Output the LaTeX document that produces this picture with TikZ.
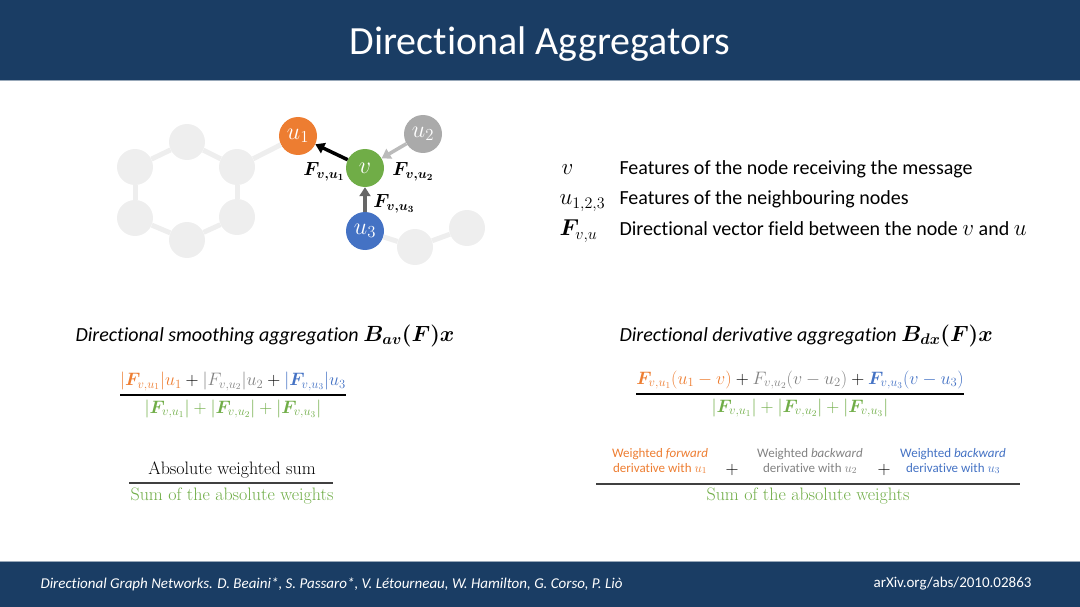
\RequirePackage{fix-cm}
\documentclass[tikz,border=0pt]{standalone}
\usepackage{amsmath,amssymb,bm}
\usepackage{fontspec}
\setsansfont{Carlito}[RawFeature=-liga, RawFeature=-clig, RawFeature=-dlig, RawFeature=-calt, RawFeature=-rlig]
\usepackage{xcolor}
\usetikzlibrary{
  arrows.meta,
  positioning,
}

\definecolor{slidenavy}{RGB}{26,61,100}
\definecolor{dgnorange}{RGB}{237,125,49}
\definecolor{dgngray}{RGB}{170,170,170}
\definecolor{dgngraytxt}{RGB}{130,130,130}
\definecolor{dgngreen}{RGB}{112,173,71}
\definecolor{dgnblue}{RGB}{68,114,196}
\definecolor{bgcircle}{RGB}{238,238,238}

\newcommand{\fsz}[2]{\fontsize{#1}{#2}\selectfont}
\newcommand{\thickfrac}[2]{\genfrac{}{}{1.3pt}{0}{#1}{#2}}

\begin{document}
\begin{tikzpicture}[
  x=1pt, y=-1pt,
  font=\sffamily,
  bgnode/.style={circle, fill=bgcircle, minimum size=36pt, inner sep=0pt},
  bgedge/.style={bgcircle, line width=5pt},
  gnode/.style={circle, minimum size=38pt, inner sep=0pt, text=white, font=\fsz{24}{28}},
  flabel/.style={font=\fsz{19}{22}},
  legsym/.style={anchor=base west, font=\fsz{23}{27}},
  legtxt/.style={anchor=base west, font=\sffamily\fsz{20}{24}},
  heading/.style={anchor=base west, font=\sffamily\fsz{20}{24}},
  fracnode/.style={font=\fsz{18}{22}},
  sumtxt/.style={font=\rmfamily\fsz{18}{21}},
  dxlabel/.style={align=center, font=\sffamily\fsz{13}{15}},
  fracbar/.style={draw=black!75, line width=1.5pt},
]
  % Scale: 1px = 1pt, y grows downwards
  \useasboundingbox (0,0) rectangle (1080,607);

  % Title bar
  \fill[slidenavy] (0,0) rectangle (1080,81);
  \draw[slidenavy!45, line width=1pt] (0,81) -- (1080,81);
  \node[text=white, font=\sffamily\fsz{40}{48}] (title) at (540,44) {Directional Aggregators};

  % Background molecule
  \node[bgnode] (h1) at (135,167) {};
  \node[bgnode] (h2) at (187,142) {};
  \node[bgnode] (h3) at (237,167) {};
  \node[bgnode] (h4) at (237,217) {};
  \node[bgnode] (h5) at (187,240) {};
  \node[bgnode] (h6) at (135,218) {};
  \node[bgnode] (b1) at (415,247) {};
  \node[bgnode] (b2) at (467,228) {};

  % Highlighted nodes
  \node[gnode, fill=dgnorange] (u1) at (298,136) {$u_1$};
  \node[gnode, fill=dgngray]   (u2) at (423,134) {$u_2$};
  \node[gnode, fill=dgngreen]  (v)  at (365,168) {$v$};
  \node[gnode, fill=dgnblue]   (u3) at (365,231) {$u_3$};

  \foreach \a/\b in {h1/h2, h2/h3, h3/h4, h4/h5, h5/h6, h6/h1, h3/u1, u3/b1, b1/b2}
    \draw[bgedge] (\a) -- (\b);

  % Vector field arrows
  \draw[line width=3.5pt, -{Triangle[length=9pt, width=11pt]}] (v) -- (u1);
  \draw[line width=3.5pt, dgngray!80, -{Triangle[length=9pt, width=11pt]}] (u2) -- (v);
  \draw[line width=3.5pt, black!60, -{Triangle[length=9pt, width=11pt]}] (u3) -- (v);

  \node[flabel] (fvu1) at (324,172) {$\bm{F_{v,u_1}}$};
  \node[flabel] (fvu2) at (413,172) {$\bm{F_{v,u_2}}$};
  \node[flabel] (fvu3) at (394,204) {$\bm{F_{v,u_3}}$};

  % Legend
  \node[legsym] (symv) at (558,175) {$v$};
  \node[legtxt] (txtv) at (616,175) {Features of the node receiving the message};
  \node[legsym] (symu) at (556,205) {$u_{1,2,3}$};
  \node[legtxt] (txtu) at (616,205) {Features of the neighbouring nodes};
  \node[legsym] (symf) at (556,236) {$\bm{F}_{v,u}$};
  \node[legtxt] (txtf) at (616,236) {Directional vector field between the node {\fsz{23}{27}$v$} and {\fsz{23}{27}$u$}};

  % Smoothing aggregation
  \node[heading] (avhead) at (72,341) {\textit{Directional smoothing aggregation} {\fsz{22}{26}$\bm{B_{av}(F)x}$}};
  \node[fracnode] (avfrac) at (233,395) {$\displaystyle
    \thickfrac{\textcolor{dgnorange}{|\bm{F}_{v,u_1}|u_1} + \textcolor{dgngraytxt}{|F_{v,u_2}|u_2} + \textcolor{dgnblue}{|\bm{F}_{v,u_3}|u_3}}
         {\textcolor{dgngreen}{|\bm{F}_{v,u_1}| + |\bm{F}_{v,u_2}| + |\bm{F}_{v,u_3}|}}$};

  \node[sumtxt] (avnum) at (232,470) {Absolute weighted sum};
  \coordinate (avbarl) at (129,483);
  \coordinate (avbarr) at (333,483);
  \draw[fracbar] (avbarl) -- (avbarr);
  \node[sumtxt, text=dgngreen] (avden) at (232,496) {Sum of the absolute weights};

  % Derivative aggregation
  \node[heading] (dxhead) at (616,341) {\textit{Directional derivative aggregation} {\fsz{22}{26}$\bm{B_{dx}(F)x}$}};
  \node[fracnode] (dxfrac) at (800,394) {$\displaystyle
    \thickfrac{\textcolor{dgnorange}{\bm{F}_{v,u_1}(u_1-v)} + \textcolor{dgngraytxt}{F_{v,u_2}(v-u_2)} + \textcolor{dgnblue}{\bm{F}_{v,u_3}(v-u_3)}}
         {\textcolor{dgngreen}{|\bm{F}_{v,u_1}| + |\bm{F}_{v,u_2}| + |\bm{F}_{v,u_3}|}}$};

  \node[dxlabel, text=dgnorange] (fwd1) at (660,461) {Weighted \textit{forward}\\derivative with $u_1$};
  \node[font=\fsz{18}{20}] (plus1) at (732,470) {$+$};
  \node[dxlabel, text=dgngraytxt] (bwd2) at (810,461) {Weighted \textit{backward}\\derivative with $u_2$};
  \node[font=\fsz{18}{20}] (plus2) at (884,470) {$+$};
  \node[dxlabel, text=dgnblue] (bwd3) at (953,461) {Weighted \textit{backward}\\derivative with $u_3$};
  \coordinate (dxbarl) at (596,484);
  \coordinate (dxbarr) at (1020,484);
  \draw[fracbar] (dxbarl) -- (dxbarr);
  \node[sumtxt, text=dgngreen] (dxden) at (808,496) {Sum of the absolute weights};

  % Footer
  \fill[slidenavy] (0,561) rectangle (1080,607);
  \draw[slidenavy!45, line width=1pt] (0,561) -- (1080,561);
  \node[anchor=west, text=white, font=\sffamily\itshape\fsz{15}{18}] (cite) at (37,584)
    {Directional Graph Networks. D. Beaini*, S. Passaro*, V. Létourneau, W. Hamilton, G. Corso, P. Liò};
  \node[anchor=east, text=white, font=\sffamily\fsz{15}{18}] (arxiv) at (1035,584) {arXiv.org/abs/2010.02863};

\end{tikzpicture}
\end{document}
